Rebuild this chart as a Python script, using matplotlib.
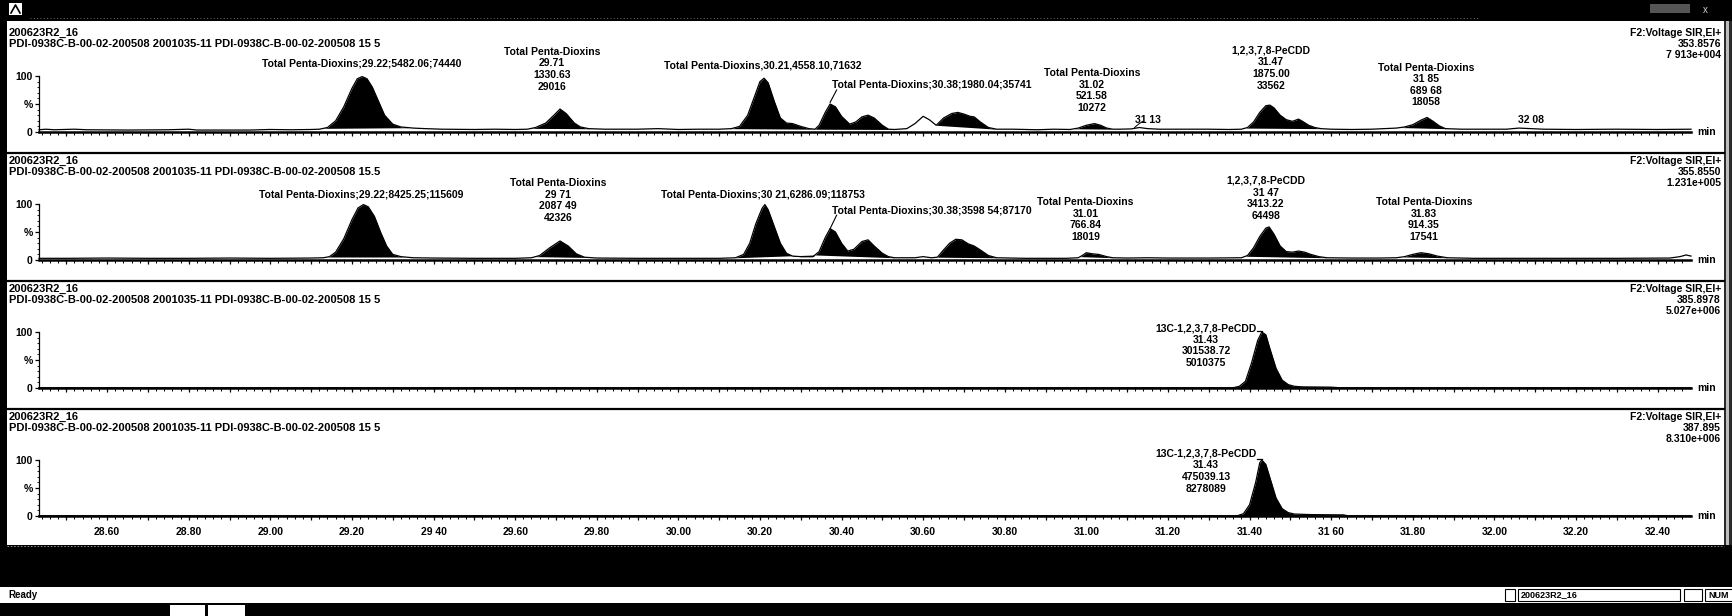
import numpy as np
import matplotlib
matplotlib.use("Agg")
import matplotlib.pyplot as plt
from matplotlib.patches import Rectangle
from matplotlib.lines import Line2D

# ---------------- data ----------------
sample_name = "200623R2_16"
sample_desc = [
    "PDI-0938C-B-00-02-200508 2001035-11 PDI-0938C-B-00-02-200508 15 5",
    "PDI-0938C-B-00-02-200508 2001035-11 PDI-0938C-B-00-02-200508 15.5",
    "PDI-0938C-B-00-02-200508 2001035-11 PDI-0938C-B-00-02-200508 15 5",
    "PDI-0938C-B-00-02-200508 2001035-11 PDI-0938C-B-00-02-200508 15 5",
]
channel_func = "F2:Voltage SIR,EI+"
channel_mass = ["353.8576", "355.8550", "385.8978", "387.895"]
channel_max = ["7 913e+004", "1.231e+005", "5.027e+006", "8.310e+006"]

tick_values = [28.60, 28.80, 29.00, 29.20, 29.40, 29.60, 29.80, 30.00, 30.20, 30.40,
               30.60, 30.80, 31.00, 31.20, 31.40, 31.60, 31.80, 32.00, 32.20, 32.40]
tick_labels = ["28.60", "28.80", "29.00", "29.20", "29 40", "29.60", "29.80", "30.00",
               "30.20", "30.40", "30.60", "30.80", "31.00", "31.20", "31.40", "31 60",
               "31.80", "32.00", "32.20", "32.40"]

# trace 1 (353.8576)
t1 = [28.433, 28.45, 28.47, 28.50, 28.52, 28.55, 28.65, 28.75, 28.80, 28.82, 28.95, 29.00,
      29.05, 29.10, 29.12,
      29.14, 29.16, 29.18, 29.20, 29.213, 29.225, 29.237, 29.25, 29.265, 29.28, 29.30,
      29.32, 29.35, 29.38, 29.42, 29.50, 29.55, 29.60, 29.63,
      29.65, 29.675, 29.695, 29.71, 29.725, 29.745, 29.76, 29.78, 29.82, 29.90, 29.95,
      30.00, 30.05, 30.10, 30.13,
      30.15, 30.17, 30.185, 30.20, 30.21, 30.22, 30.235, 30.25, 30.265, 30.28, 30.30,
      30.32, 30.335,
      30.345, 30.36, 30.372, 30.385, 30.40, 30.42, 30.435, 30.45, 30.465, 30.48, 30.50,
      30.515, 30.53, 30.56,
      30.58, 30.60, 30.615, 30.632,
      30.65, 30.67, 30.685, 30.70, 30.715, 30.725, 30.74, 30.76, 30.78, 30.82, 30.88,
      30.92, 30.96,
      30.98, 31.00, 31.02, 31.035, 31.05, 31.065, 31.08, 31.11, 31.13, 31.15, 31.18,
      31.25, 31.30, 31.35, 31.38,
      31.395, 31.41, 31.425, 31.44, 31.45, 31.46, 31.475, 31.49, 31.505, 31.52, 31.53,
      31.545, 31.56, 31.575, 31.60, 31.65, 31.70, 31.73, 31.76,
      31.78, 31.80, 31.82, 31.835, 31.85, 31.865, 31.88, 31.92, 31.97, 32.03, 32.06,
      32.09, 32.12, 32.20, 32.30, 32.40, 32.482]
i1 = [4, 5, 4, 4.5, 5, 4, 3.5, 4, 5, 3.5, 3.5, 4.5,
      4, 4.5, 5,
      8, 20, 45, 78, 95, 99, 95, 80, 55, 30, 14,
      9, 7, 6, 5, 4.5, 5, 4.5, 5,
      8, 16, 30, 41, 33, 16, 9, 6, 5, 5, 6,
      4.5, 5, 5, 6,
      10, 30, 60, 90, 96, 88, 55, 25, 16, 15, 10,
      6, 5,
      12, 35, 50, 45, 28, 14, 18, 27, 30, 25, 12,
      5, 4.5, 6,
      15, 28, 22, 12,
      25, 33, 35, 32, 28, 27, 18, 8, 5, 5, 4,
      5, 4.5,
      7, 12, 15, 12, 7, 5, 5, 5.5, 8, 6, 5,
      5, 5, 4.5, 5,
      8, 18, 35, 47, 48, 43, 30, 22, 19, 23, 19,
      12, 8, 6, 5, 4.5, 5, 6, 7,
      9, 13, 21, 26, 19, 11, 6, 5, 5, 5, 7,
      6, 5, 4.5, 5, 4.5, 5]
fill1 = [(29.13, 29.34), (29.64, 29.79), (30.13, 30.335), (30.335, 30.53),
         (30.632, 30.78), (30.97, 31.07), (31.39, 31.575), (31.77, 31.89)]

# trace 2 (355.8550)
t2 = [28.433, 28.50, 28.60, 28.70, 28.80, 28.90, 29.00, 29.10, 29.13,
      29.145, 29.16, 29.18, 29.20, 29.215, 29.228, 29.24, 29.255, 29.27, 29.285, 29.30,
      29.32, 29.35, 29.40, 29.50, 29.60, 29.64,
      29.66, 29.685, 29.71, 29.73, 29.75, 29.77, 29.80, 29.90, 30.00, 30.10, 30.14,
      30.16, 30.175, 30.19, 30.205, 30.212, 30.22, 30.235, 30.25, 30.265, 30.28, 30.30,
      30.33,
      30.345, 30.36, 30.372, 30.385, 30.40, 30.415, 30.43, 30.45, 30.465, 30.48, 30.50,
      30.515, 30.53, 30.58, 30.60, 30.62,
      30.635, 30.65, 30.665, 30.68, 30.695, 30.71, 30.725, 30.74, 30.76, 30.78, 30.85,
      30.95, 30.98,
      30.99, 31.00, 31.015, 31.03, 31.05, 31.065, 31.10, 31.15, 31.20, 31.30, 31.38,
      31.395, 31.41, 31.425, 31.44, 31.448, 31.46, 31.475, 31.49, 31.505, 31.52, 31.535,
      31.55, 31.57, 31.59, 31.65, 31.72, 31.76,
      31.78, 31.80, 31.82, 31.84, 31.86, 31.885, 31.95, 32.10, 32.30, 32.43, 32.455,
      32.47, 32.482]
i2 = [3, 3, 3.5, 3, 3, 3.5, 3, 3.5, 4,
      6, 14, 38, 72, 93, 99, 95, 78, 50, 25, 10,
      6, 4, 3.5, 3, 3, 4,
      8, 22, 34, 25, 11, 5, 3.5, 3, 3, 3, 4,
      10, 30, 65, 92, 99, 90, 60, 30, 12, 7, 6,
      6,
      15, 40, 56, 50, 30, 16, 19, 33, 36, 25, 12,
      6, 4, 4, 6, 4,
      5, 18, 30, 37, 36, 29, 25, 18, 8, 4, 3,
      3, 4,
      8, 13, 11, 10, 6, 4, 3.5, 4, 3.5, 3.5, 4,
      8, 22, 42, 57, 59, 46, 25, 15, 14, 16, 14,
      10, 6, 4, 3.5, 3.5, 4,
      6, 10, 13, 11, 7, 4, 3, 3, 3, 3.5, 6,
      9, 7]
fill2 = [(29.14, 29.33), (29.65, 29.78), (30.14, 30.335), (30.335, 30.53),
         (30.635, 30.78), (30.985, 31.07), (31.39, 31.59), (31.775, 31.89)]

# trace 3 (385.8978)
t3 = [28.433, 29.00, 29.80, 30.60, 31.36, 31.375, 31.39, 31.405, 31.42, 31.43, 31.44,
      31.45, 31.465, 31.48, 31.495, 31.51, 31.53, 31.60, 31.62, 32.00, 32.482]
i3 = [0.5, 0.5, 0.5, 0.5, 0.5, 3, 12, 45, 85, 100, 95,
      70, 35, 14, 6, 3, 2, 1.5, 0.5, 0.5, 0.5]
fill3 = [(31.36, 31.62)]

# trace 4 (387.895)
t4 = [28.433, 29.00, 29.80, 30.60, 31.37, 31.385, 31.40, 31.415, 31.425, 31.43, 31.44,
      31.45, 31.465, 31.48, 31.495, 31.51, 31.55, 31.63, 31.64, 32.00, 32.482]
i4 = [0.5, 0.5, 0.5, 0.5, 0.5, 4, 20, 60, 95, 100, 92,
      68, 32, 13, 6, 3.5, 2.5, 2, 0.5, 0.5, 0.5]
fill4 = [(31.37, 31.64)]

# peak labels: (x in min, y in %, text, kind)
labels1 = [
    (29.223, 122, "Total Penta-Dioxins;29.22;5482.06;74440", "c"),
    (29.69, 152, "Total Penta-Dioxins\n29.71\n1330.63\n29016", "t"),
    (30.207, 118, "Total Penta-Dioxins,30.21,4558.10,71632", "c"),
    (30.376, 84, "Total Penta-Dioxins;30.38;1980.04;35741", "l"),
    (31.014, 114, "Total Penta-Dioxins\n31.02\n521.58\n10272", "t"),
    (31.15, 22, "31 13", "c"),
    (31.453, 154, "1,2,3,7,8-PeCDD\n31.47\n1875.00\n33562", "t"),
    (31.832, 124, "Total Penta-Dioxins\n31 85\n689 68\n18058", "t"),
    (32.09, 22, "32 08", "c"),
]
labels2 = [
    (29.223, 117, "Total Penta-Dioxins;29.22;8425.25;115609", "c"),
    (29.705, 146, "Total Penta-Dioxins\n29 71\n2087 49\n42326", "t"),
    (30.207, 117, "Total Penta-Dioxins;30 21,6286.09;118753", "c"),
    (30.376, 89, "Total Penta-Dioxins;30.38;3598 54;87170", "l"),
    (30.998, 112, "Total Penta-Dioxins\n31.01\n766.84\n18019", "t"),
    (31.44, 150, "1,2,3,7,8-PeCDD\n31 47\n3413.22\n64498", "t"),
    (31.827, 112, "Total Penta-Dioxins\n31.83\n914.35\n17541", "t"),
]
labels3 = [(31.418, 116, "13C-1,2,3,7,8-PeCDD\n31.43\n301538.72\n5010375", "r")]
labels4 = [(31.418, 120, "13C-1,2,3,7,8-PeCDD\n31.43\n475039.13\n8278089", "r")]

# ---------------- layout ----------------
W, H = 1733, 616
plt.rcParams['font.family'] = ['Liberation Sans', 'DejaVu Sans']
FS = 7.5
FSH = 8.0
FW = 'bold'

fig = plt.figure(figsize=(W / 100, H / 100), dpi=100)
fig.patch.set_facecolor('white')


def fx(px):
    return px / W


def fy(py):
    return 1 - py / H


def rect(x0, y0, x1, y1, color, z=0, ec=None, lw=0):
    fig.add_artist(Rectangle((fx(x0), fy(y1)), (x1 - x0) / W, (y1 - y0) / H,
                             transform=fig.transFigure, facecolor=color,
                             edgecolor=ec if ec else color, lw=lw, zorder=z))


def hline(y, x0, x1, color='black', lw=1.0, z=5, ls='-'):
    fig.add_artist(Line2D([fx(x0), fx(x1)], [fy(y), fy(y)], transform=fig.transFigure,
                          color=color, lw=lw, zorder=z, ls=ls))


# window decorations
rect(0, 0, W, 21, 'black', z=1)
hline(18, 30, 1480, color='#8a8a8a', lw=0.6, ls=(0, (1, 3)))
rect(9, 3, 22, 15, 'white', z=2)
fig.add_artist(Line2D([fx(11), fx(15.5), fx(20)], [fy(13), fy(5), fy(13)],
                      transform=fig.transFigure, color='black', lw=1.2, zorder=3))
rect(1650, 4, 1690, 13, '#555555', z=2)
fig.text(fx(1705), fy(10), "x", color='#d0d0d0', fontsize=7, ha='center', va='center')
rect(0, 0, 7, 546, 'black', z=1)
rect(1724, 21, W, 546, '#2a2a2a', z=1)
rect(1726, 21, 1729, 546, '#bdbdbd', z=1)
rect(0, 545, W, 587, 'black', z=1)
hline(546, 7, 1724, color='#9a9a9a', lw=0.6, ls=(0, (2, 2)))
rect(0, 603, W, H, 'black', z=1)
rect(170, 605, 205, H, 'white', z=2)
rect(208, 605, 245, H, 'white', z=2)
fig.text(fx(8), fy(595), "Ready", fontsize=FS - 0.5, fontweight=FW, ha='left', va='center')
rect(1505, 589, 1515, 601, 'white', z=2, ec='black', lw=0.8)
rect(1518, 589, 1680, 601, 'white', z=2, ec='black', lw=0.8)
fig.text(fx(1521), fy(595), sample_name, fontsize=FS - 1, fontweight=FW,
         ha='left', va='center', zorder=3)
rect(1684, 589, 1702, 601, 'white', z=2, ec='black', lw=0.8)
rect(1705, 589, 1733, 601, 'white', z=2, ec='black', lw=0.8)
fig.text(fx(1708), fy(595), "NUM", fontsize=FS - 1, fontweight=FW,
         ha='left', va='center', zorder=3)

traces = [(t1, i1, fill1, labels1), (t2, i2, fill2, labels2),
          (t3, i3, fill3, labels3), (t4, i4, fill4, labels4)]

X0, X1 = 39, 1691
XMIN, XMAX = 28.433, 32.482
STEP = 128

major_pos = np.round(np.arange(28.5, 32.45, 0.1), 2)
minor_pos = np.round(np.arange(28.44, 32.48, 0.02), 2)
label_map = dict(zip(np.round(tick_values, 2), tick_labels))

for k, (T, I, fills, labs) in enumerate(traces):
    zero = 132 + STEP * k
    top100 = 76 + STEP * k
    if k > 0:
        hline(153 + STEP * (k - 1), 7, 1724, lw=1.6)
    fig.text(fx(9), fy(33 + STEP * k), sample_name, fontsize=FSH, fontweight=FW,
             ha='left', va='center')
    fig.text(fx(9), fy(44 + STEP * k), sample_desc[k], fontsize=FSH, fontweight=FW,
             ha='left', va='center')
    fig.text(fx(1721), fy(33 + STEP * k), channel_func, fontsize=FS, fontweight=FW,
             ha='right', va='center')
    fig.text(fx(1721), fy(44 + STEP * k), channel_mass[k], fontsize=FS, fontweight=FW,
             ha='right', va='center')
    fig.text(fx(1721), fy(55 + STEP * k), channel_max[k], fontsize=FS, fontweight=FW,
             ha='right', va='center')

    ax = fig.add_axes([fx(X0), fy(zero), (X1 - X0) / W, (zero - top100) / H])
    ax.set_xlim(XMIN, XMAX)
    ax.set_ylim(0, 100)
    ax.patch.set_alpha(0)
    for s in ('top', 'right'):
        ax.spines[s].set_visible(False)
    ax.spines['bottom'].set_linewidth(1.8)
    ax.spines['left'].set_linewidth(0.9)

    ax.plot(T, I, color='black', lw=0.9, clip_on=False, zorder=3)
    for a, b in fills:
        tt = np.linspace(a, b, 300)
        yy = np.interp(tt, T, I)
        base = np.linspace(yy[0], yy[-1], tt.size)
        ax.fill_between(tt, base, yy, color='black', lw=0, zorder=3)

    ax.set_xticks(major_pos)
    if k == 3:
        ax.set_xticklabels([label_map.get(round(p, 2), "") for p in major_pos],
                           fontsize=FS, fontweight=FW)
    else:
        ax.set_xticklabels([])
    ax.set_xticks(minor_pos, minor=True)
    ax.tick_params(axis='x', which='major', direction='out', length=3.2, width=0.9, pad=5)
    ax.tick_params(axis='x', which='minor', direction='out', length=1.8, width=0.7)
    ax.set_yticks([0, 50, 100])
    ax.set_yticklabels(['0', '%', '100'], fontsize=FS, fontweight=FW)
    ax.set_yticks(np.arange(10, 100, 10), minor=True)
    ax.tick_params(axis='y', which='major', direction='out', length=3, width=0.9, pad=1.5)
    ax.tick_params(axis='y', which='minor', direction='out', length=1.5, width=0.6)

    fig.text(fx(1697), fy(zero), "min", fontsize=FS, fontweight=FW, ha='left', va='center')

    for x, y, s, kind in labs:
        if kind == 'c':
            ax.text(x, y, s, fontsize=FS, fontweight=FW, ha='center', va='center',
                    clip_on=False, zorder=4)
        elif kind == 't':
            ax.text(x, y, s, fontsize=FS, fontweight=FW, ha='center', va='top',
                    linespacing=1.2, clip_on=False, zorder=4)
        elif kind == 'r':
            ax.text(x, y, s, fontsize=FS, fontweight=FW, ha='right', va='top',
                    multialignment='center', linespacing=1.2, clip_on=False, zorder=4)
        else:
            ax.text(x, y, s, fontsize=FS, fontweight=FW, ha='left', va='center',
                    clip_on=False, zorder=4)

    # leader lines
    if k in (0, 1):
        ax.plot([30.372, 30.388], [53 + 3 * k, labs[3][1] - 9], color='black', lw=0.8,
                clip_on=False)
    if k == 0:
        ax.plot([31.118, 31.128, 31.138], [8, 14, 19], color='black', lw=0.7,
                clip_on=False)
    if k in (2, 3):
        ax.plot([31.418, 31.43], [101, 101], color='black', lw=0.9, clip_on=False)

fig.savefig("out.png", dpi=100, facecolor='white')
